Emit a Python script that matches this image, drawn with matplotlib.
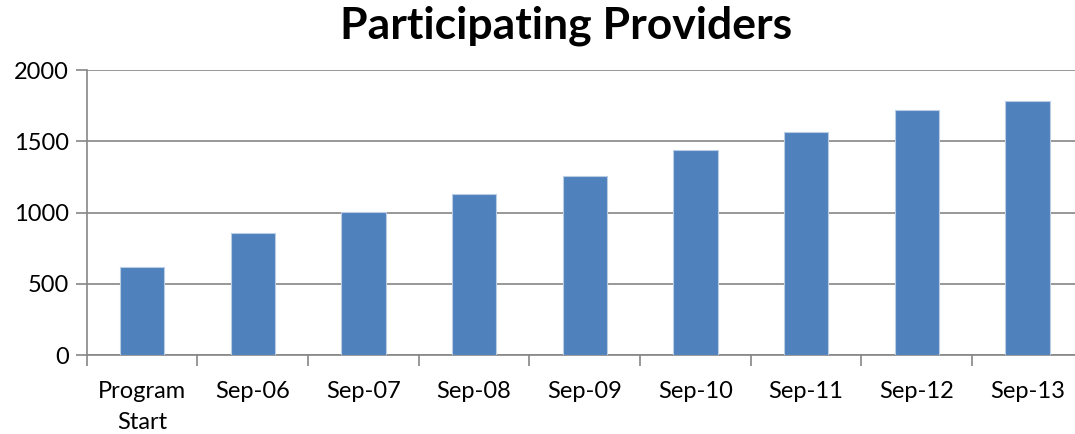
import matplotlib.pyplot as plt
import numpy as np

plt.rcParams['font.family'] = ['Lato', 'DejaVu Sans']

categories = ["Program\nStart", "Sep-06", "Sep-07", "Sep-08", "Sep-09",
              "Sep-10", "Sep-11", "Sep-12", "Sep-13"]
providers = [615, 854, 1006, 1128, 1258, 1436, 1567, 1719, 1782]
y_ticks = [0, 500, 1000, 1500, 2000]

grey = "#868686"

fig = plt.figure(figsize=(10.75, 4.34), dpi=100)
ax = fig.add_axes([0.0807, 0.182, 0.9265, 0.6567])

x = np.arange(len(categories))
ax.bar(x, providers, width=0.4, color="#4F81BD", edgecolor="#B9CDE5",
       linewidth=0.8, zorder=3)

ax.set_xlim(-0.5, len(categories) - 0.5)
ax.set_ylim(0, 2000)
ax.set_yticks(y_ticks)
ax.yaxis.grid(True, color=grey, linewidth=1.2, zorder=0)

# ticks on the category boundaries, labels centred under bars
ax.set_xticks(np.arange(len(categories) + 1) - 0.5)
ax.set_xticklabels([])
ax.set_xticks(x, minor=True)
ax.set_xticklabels(categories, minor=True, fontsize=17, linespacing=1.55)
ax.tick_params(axis="x", which="minor", length=0, pad=19)
ax.tick_params(axis="x", which="major", length=8, width=1.2, color=grey)
ax.tick_params(axis="y", length=8, width=1.2, color=grey, labelsize=17, pad=5)

for s in ["top", "right"]:
    ax.spines[s].set_visible(False)
for s in ["left", "bottom"]:
    ax.spines[s].set_color(grey)
    ax.spines[s].set_linewidth(1.2)

fig.text(0.527, 0.912, "Participating Providers", ha="center", va="baseline",
         fontsize=32, fontweight="bold")

fig.savefig("out.png", dpi=100)
